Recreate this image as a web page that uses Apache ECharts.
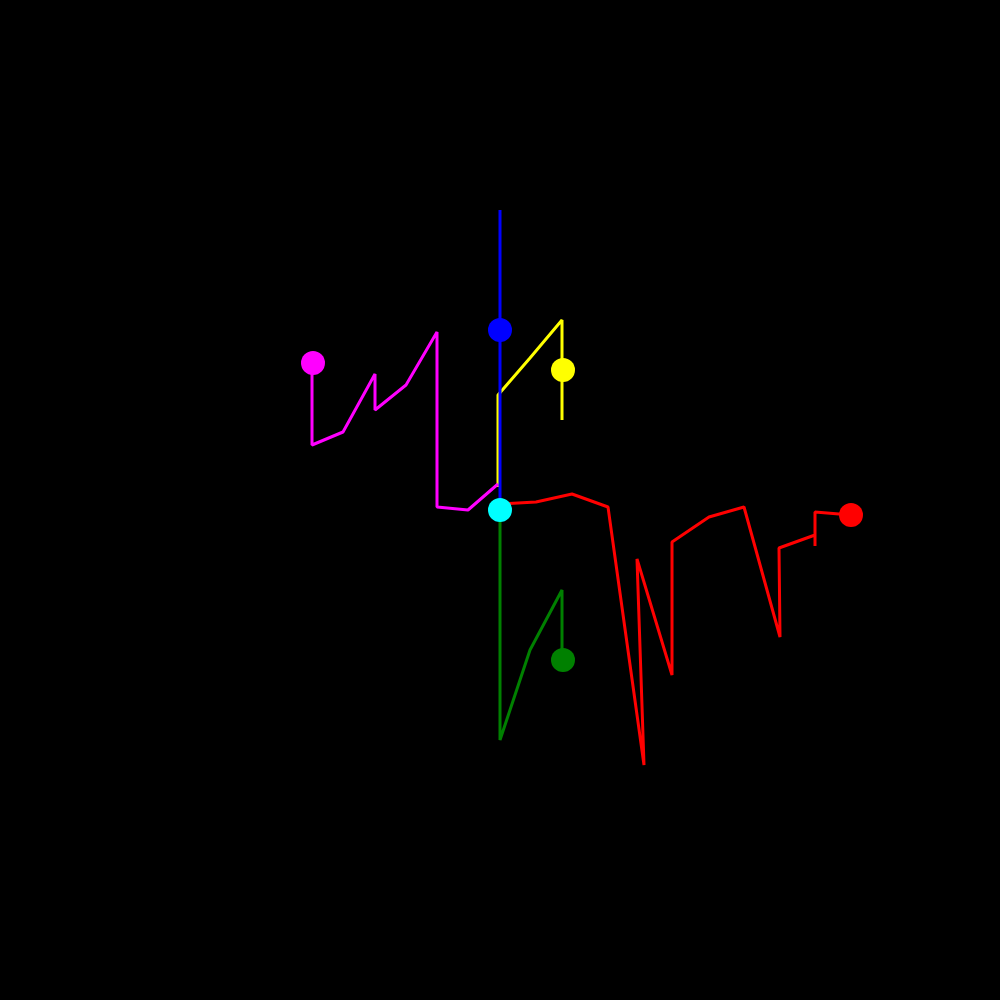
<!DOCTYPE html>
<html><head><meta charset="utf-8">
<script src="https://cdn.jsdelivr.net/npm/echarts@6/dist/echarts.min.js"></script>
<style>html,body{margin:0;padding:0;background:#000}#c{width:1000px;height:1000px}</style>
</head><body><div id="c"></div>
<script>
// Paths (x right, y up; origin at the cyan start point area)
const redPath = [[0,-4],[36,-2],[72,6],[108,-7],[144,-265],[137,-59],[172,-175],[172,-42],[209,-17],[244,-7],[280,-137],[279,-48],[315,-35],[315,-46],[315,-12],[351,-15]];
const magentaPath = [[-2,16],[-32,-10],[-63,-7],[-63,168],[-94,115],[-125,90],[-125,126],[-157,68],[-188,55],[-188,137]];
const yellowPath = [[-2,13],[-2,105],[0,107],[30,142],[62,180],[62,80]];
const greenPath = [[0,-10],[0,-240],[30,-150],[62,-90],[62,-160]];
const bluePath = [[0,-10],[0,290]];
// Marker positions
const redDot = [[351,-15]];
const magentaDot = [[-187,137]];
const yellowDot = [[63,130]];
const greenDot = [[63,-160]];
const blueDot = [[0,170]];
const cyanDot = [[0,-10]];

const chart = echarts.init(document.getElementById('c'));
function line(data,color){return {type:'line',data,showSymbol:false,symbol:'none',lineStyle:{color,width:3},itemStyle:{color},animation:false,silent:true};}
function dot(data,color){return {type:'scatter',data,symbolSize:24,itemStyle:{color,opacity:1},animation:false,silent:true,z:5};}
chart.setOption({
  backgroundColor:'#000',
  animation:false,
  grid:{left:0,right:0,top:0,bottom:0},
  xAxis:{type:'value',min:-500,max:500,show:false},
  yAxis:{type:'value',min:-500,max:500,show:false},
  series:[
    line(yellowPath,'#ffff00'),
    line(magentaPath,'#ff00ff'),
    line(redPath,'#ff0000'),
    line(greenPath,'#008000'),
    line(bluePath,'#0000ff'),
    dot(redDot,'#ff0000'),
    dot(magentaDot,'#ff00ff'),
    dot(yellowDot,'#ffff00'),
    dot(greenDot,'#008000'),
    dot(blueDot,'#0000ff'),
    dot(cyanDot,'#00ffff')
  ]
});
</script></body></html>
